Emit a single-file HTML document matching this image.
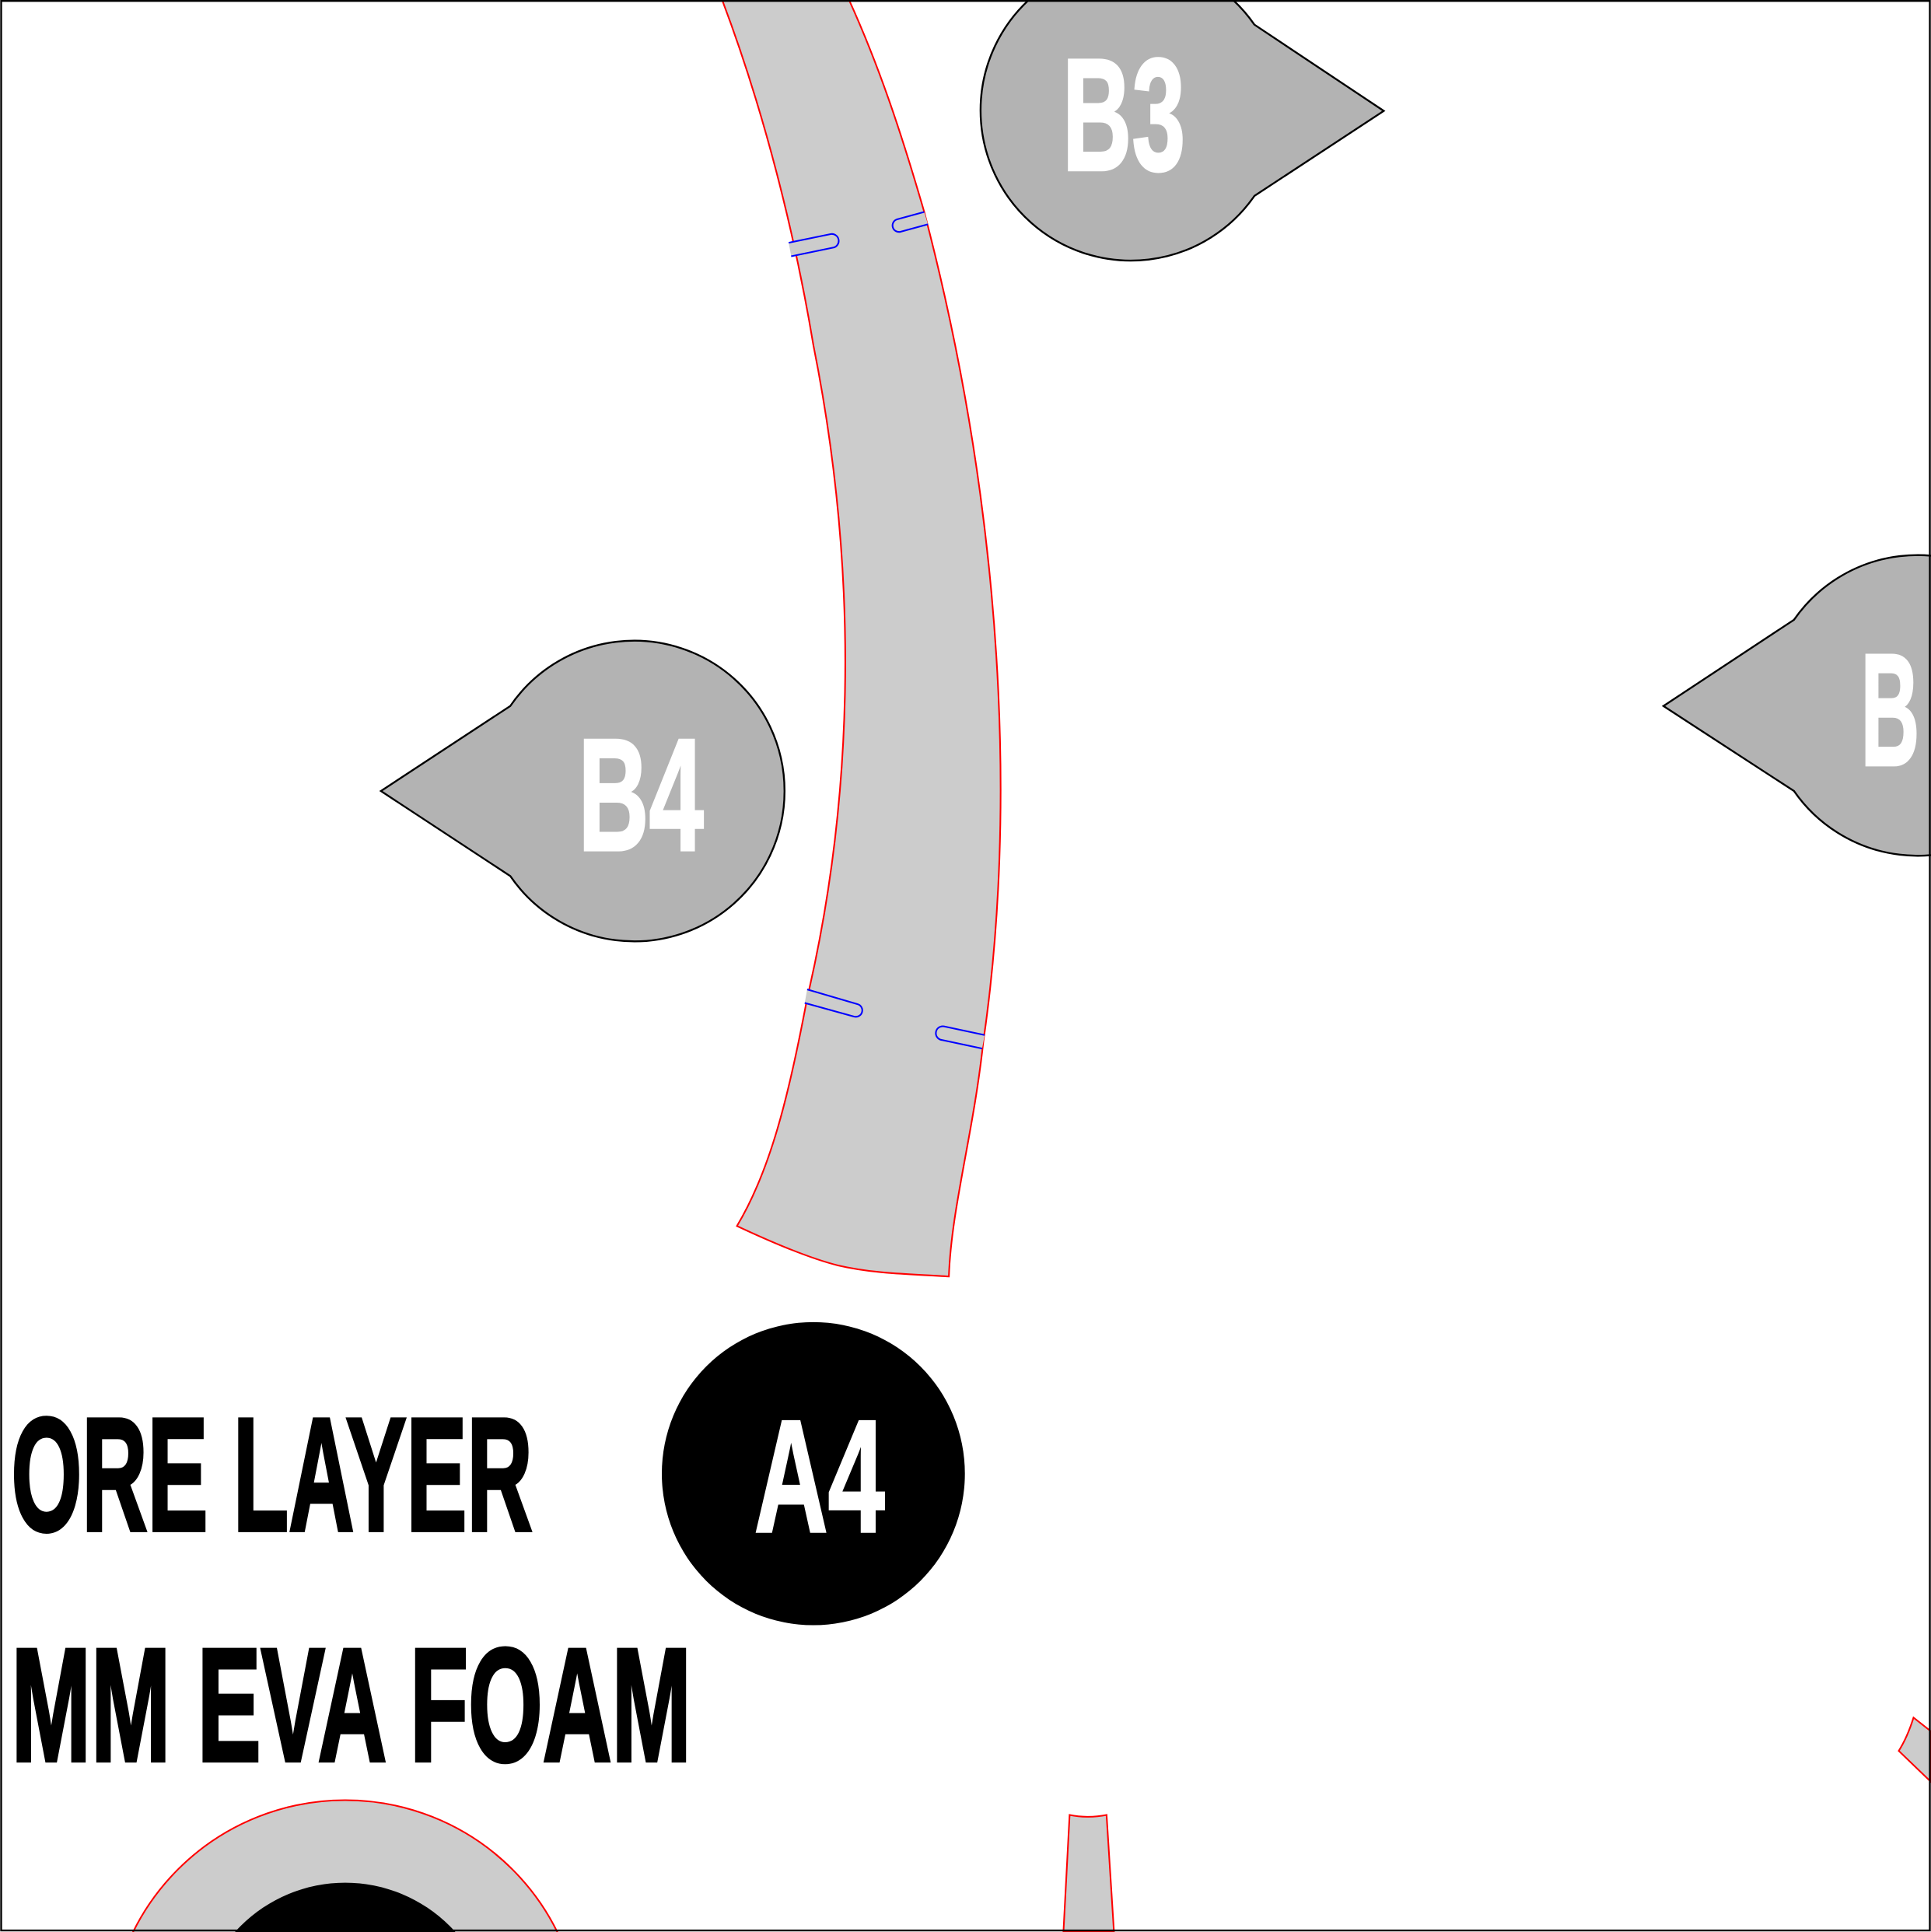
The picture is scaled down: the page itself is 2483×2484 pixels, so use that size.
<!DOCTYPE html>
<html><head><meta charset="utf-8"><style>
html,body{margin:0;padding:0;background:#fff;width:2483px;height:2484px;overflow:hidden;position:relative;}
svg{display:block;position:absolute;left:0;top:0;}
text{font-family:"Liberation Sans",sans-serif;font-weight:bold;}
</style></head><body>
<svg width="2483" height="2484" viewBox="0 0 1567 1568" xmlns="http://www.w3.org/2000/svg" overflow="hidden">
<rect x="0" y="0" width="1567" height="1568" fill="#fff"/>
<path d="M586,0 C620,90 645,190 660,280 C700,480 690,660 655,810 C640,890 625,950 598,995 C630,1010 660,1022 680,1027 C710,1034 740,1034 770,1036 C772,980 790,920 798,845 C825,660 815,420 750,172 C732,110 714,55 689,0 Z" fill="#cccccc" stroke="#ff0000" stroke-width="1.3"/>
<g fill="#cccccc" stroke="#0000ff" stroke-width="1.3">
<path d="M640,197 L674,190 A5,5 0 0 1 676,201 L642,208"/>
<path d="M750,172 L728,178 A5,5 0 0 0 731,188 L753,182"/>
<path d="M655,803 L696,815 A5,5 0 0 1 693,825 L653,814"/>
<path d="M799,840 L766,833 A5,5 0 0 0 764,844 L797,851"/>
</g>
<path d="M1018,20 L1123,90 L1018,159 A122,122 0 1 1 1018,20 Z" fill="#b3b3b3" stroke="#000" stroke-width="1.5"/>
<text x="862" y="138" font-size="130" fill="#fff" stroke="#fff" stroke-width="2" textLength="100" lengthAdjust="spacingAndGlyphs">B3</text>
<path d="M414,573 L309,642 L414,711 A122,122 0 1 0 414,573 Z" fill="#b3b3b3" stroke="#000" stroke-width="1.5"/>
<text x="469" y="690" font-size="130" fill="#fff" stroke="#fff" stroke-width="2" textLength="102" lengthAdjust="spacingAndGlyphs">B4</text>
<path d="M1456,503 L1350,573 L1456,642 A122,122 0 1 0 1456,503 Z" fill="#b3b3b3" stroke="#000" stroke-width="1.5"/>
<text x="1510" y="621" font-size="130" fill="#fff" stroke="#fff" stroke-width="2" textLength="48" lengthAdjust="spacingAndGlyphs">B</text>
<circle cx="660" cy="1196" r="123" fill="#000"/>
<text x="612" y="1243" font-size="130" fill="#fff" stroke="#fff" stroke-width="2" textLength="106" lengthAdjust="spacingAndGlyphs">A4</text>
<text x="9" y="1242" font-size="131" fill="#000" stroke="#000" stroke-width="3" textLength="423" lengthAdjust="spacingAndGlyphs">ORE LAYER</text>
<text x="9" y="1429" font-size="131" fill="#000" stroke="#000" stroke-width="3" textLength="552" lengthAdjust="spacingAndGlyphs">MM EVA FOAM</text>
<circle cx="280" cy="1653" r="192" fill="#cccccc" stroke="#ff0000" stroke-width="1.3"/>
<circle cx="280" cy="1648" r="120" fill="#000"/>
<path d="M868,1473 Q883,1476 898,1473 L904,1568 L863,1568 Z" fill="#cccccc" stroke="#ff0000" stroke-width="1.3"/>
<path d="M1567,1405 L1553,1394 Q1548,1410 1541,1421 L1567,1446 Z" fill="#cccccc" stroke="#ff0000" stroke-width="1.3"/>
<rect x="0.75" y="0.75" width="1565.5" height="1566" fill="none" stroke="#000" stroke-width="1.5"/>
</svg>
</body></html>
